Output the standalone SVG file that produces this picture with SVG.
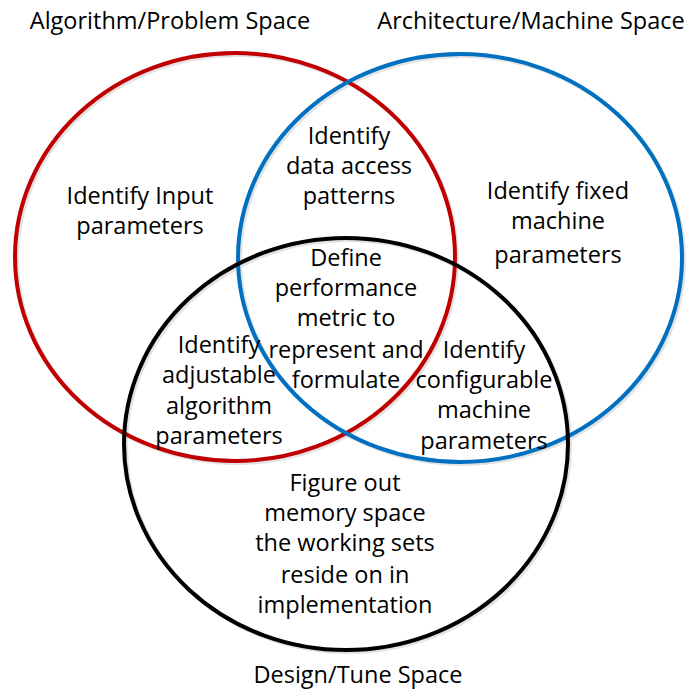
<svg xmlns="http://www.w3.org/2000/svg" width="689" height="690" viewBox="0 0 689 690">
<style>
.c{fill:none;stroke-width:4}
.sh{fill:none;stroke:#e3e3e3;stroke-width:4}
text{font-family:"Open Sans","Liberation Sans",sans-serif;font-size:23.5px;fill:#000;text-anchor:middle}
</style>
<rect width="689" height="690" fill="#fff"/>
<g id="shadows">
<ellipse class="sh" cx="237" cy="259" rx="220" ry="204"/>
<ellipse class="sh" cx="462" cy="260" rx="222" ry="204"/>
<ellipse class="sh" cx="348" cy="446" rx="222" ry="206"/>
</g>
<g id="red-circle"><ellipse class="c" stroke="#c00000" cx="235" cy="257" rx="220" ry="204"/></g>
<g id="blue-circle"><ellipse class="c" stroke="#0070c0" cx="460" cy="258" rx="222" ry="204"/></g>
<g id="black-circle"><ellipse class="c" stroke="#000" cx="346" cy="444" rx="222" ry="206"/></g>
<g id="labels">
<text x="170" y="29">Algorithm/Problem Space</text>
<text x="531" y="29">Architecture/Machine Space</text>
<text x="358" y="683">Design/Tune Space</text>
</g>
<g id="input-params"><text x="140" y="204">Identify Input</text><text x="140" y="234">parameters</text></g>
<g id="data-access"><text x="349" y="144">Identify</text><text x="349" y="174">data access</text><text x="349" y="204">patterns</text></g>
<g id="fixed-machine"><text x="558" y="199">Identify fixed</text><text x="558" y="229">machine</text><text x="558" y="263">parameters</text></g>
<g id="metric"><text x="346" y="266">Define</text><text x="346" y="296">performance</text><text x="346" y="326">metric to</text><text x="346" y="358">represent and</text><text x="346" y="388">formulate</text></g>
<g id="adjustable"><text x="219" y="353">Identify</text><text x="219" y="383">adjustable</text><text x="219" y="414">algorithm</text><text x="219" y="444">parameters</text></g>
<g id="configurable"><text x="484" y="358">Identify</text><text x="484" y="388">configurable</text><text x="484" y="418">machine</text><text x="484" y="449">parameters</text></g>
<g id="memory"><text x="345" y="491">Figure out</text><text x="345" y="521">memory space</text><text x="345" y="551">the working sets</text><text x="345" y="583">reside on in</text><text x="345" y="613">implementation</text></g>
</svg>
